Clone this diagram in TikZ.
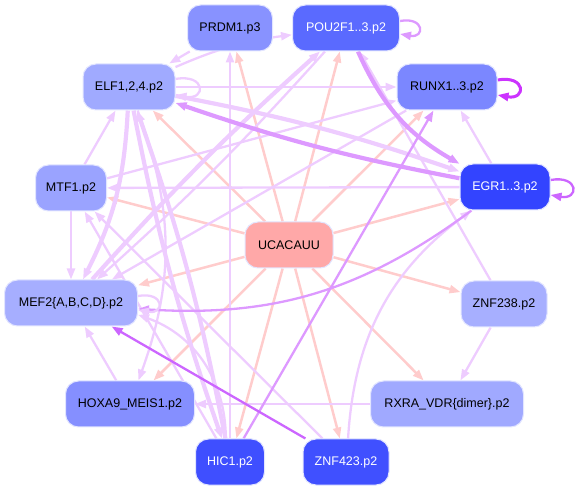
\documentclass[tikz,border=0pt]{standalone}
\usepackage{fontspec}
\setmainfont{Liberation Sans}
\usetikzlibrary{arrows.meta}
\pgfdeclarelayer{background}
\pgfsetlayers{background,main}
\definecolor{pinkc}{HTML}{FFCCCC}
\definecolor{lilac}{HTML}{EECCFF}
\definecolor{mauve}{HTML}{DD99FF}
\definecolor{violet}{HTML}{CC66FF}
\definecolor{orchid}{HTML}{CC33FF}
\definecolor{nodeline}{HTML}{E2E5FF}
\begin{document}
\begin{tikzpicture}[x=1pt, y=1pt, every node/.style={font=\fontsize{12.5}{14}\selectfont}]
  \tikzstyle{tf}=[draw=nodeline,line width=1pt,rounded corners=13pt,minimum height=46pt,inner xsep=0pt]
  \tikzstyle{reg}=[-{Triangle[length=11pt,width=8pt]},line width=2.3pt,color=lilac]
  \tikzstyle{heavy}=[reg,line width=4.2pt]
  \tikzstyle{mir}=[reg,line width=2.5pt,color=pinkc]
  \useasboundingbox (0,0) rectangle (580,492);
  \node[tf,fill={rgb,255:red,136;green,146;blue,255},minimum width=85pt] (prdm) at (230,464) {PRDM1.p3};
  \node[tf,fill={rgb,255:red,90;green,106;blue,255},text=white,minimum width=107pt] (pou) at (346,464) {POU2F1..3.p2};
  \node[tf,fill={rgb,255:red,160;green,170;blue,255},minimum width=92pt] (elf) at (129,405) {ELF1,2,4.p2};
  \node[tf,fill={rgb,255:red,123;green,135;blue,255},minimum width=100pt] (runx) at (447,405) {RUNX1..3.p2};
  \node[tf,fill={rgb,255:red,154;green,163;blue,255},minimum width=71pt] (mtf) at (71,304) {MTF1.p2};
  \node[tf,fill={rgb,255:red,51;green,68;blue,255},text=white,minimum width=90pt] (egr) at (505,305) {EGR1..3.p2};
  \node[tf,fill={rgb,255:red,255;green,168;blue,168},minimum width=88pt] (ucac) at (289,247) {UCACAUU};
  \node[tf,fill={rgb,255:red,166;green,174;blue,255},minimum width=133pt] (mef) at (71,189) {MEF2\{A,B,C,D\}.p2};
  \node[tf,fill={rgb,255:red,167;green,175;blue,255},minimum width=86pt] (znfb) at (504,188) {ZNF238.p2};
  \node[tf,fill={rgb,255:red,133;green,143;blue,255},minimum width=129pt] (hoxa) at (130,88) {HOXA9\_MEIS1.p2};
  \node[tf,fill={rgb,255:red,160;green,169;blue,255},minimum width=153pt] (rxra) at (447,88) {RXRA\_VDR\{dimer\}.p2};
  \node[tf,fill={rgb,255:red,63;green,79;blue,255},text=white,minimum width=69pt] (hic) at (230,30) {HIC1.p2};
  \node[tf,fill={rgb,255:red,64;green,80;blue,255},text=white,minimum width=86pt] (znfa) at (346,30) {ZNF423.p2};
  \begin{pgfonlayer}{background}
  % miRNA targets
  \foreach \t in {prdm,pou,elf,runx,mtf,egr,mef,znfb,hoxa,rxra,hic,znfa}
    \draw[mir] (ucac) -- (\t);
  % TF to TF
  \draw[reg] (prdm) -- (elf);
  \draw[reg] (elf) to[bend left=8] (pou);
  \draw[reg] (elf) -- (runx);
  \draw[reg] (mtf) -- (runx);
  \draw[reg] (mtf) -- (elf);
  \draw[reg] (mtf) -- (mef);
  \draw[reg] (egr) -- (mtf);
  \draw[reg] (egr) -- (runx);
  \draw[reg] (znfb) -- (pou);
  \draw[reg] (znfb) -- (rxra);
  \draw[reg] (rxra) -- (hoxa);
  \draw[reg] (hoxa) -- (mef);
  \draw[reg] (hic) -- (prdm);
  \draw[reg] (znfa) to[bend left=25] (egr);
  \draw[reg] (runx) -- (mef);
  \draw[reg] (pou) to[bend left=3] (mef);
  \draw[heavy] (mef) to[bend left=3] (pou);
  \draw[heavy] (elf) to[bend left=12] (mef);
  \draw[heavy] (hic) to[bend right=4] (elf);
  \draw[heavy] (elf) to[bend right=4] (hic);
  \draw[reg] (elf) to[bend left=20] (hoxa);
  \draw[reg] (hic) -- (mtf);
  \draw[reg] (znfa) -- (mtf);
  \draw[reg] (hic) to[bend right=35] (mef);
  \draw[heavy] (elf) to[bend left=4] (egr);
  \draw[heavy,color=mauve] (egr) to[bend left=4] (elf);
  \draw[heavy,color=mauve] (pou) to[bend right=18] (egr);
  \draw[reg,color=mauve] (egr) to[bend left=20] (mef);
  \draw[reg,color=mauve] (hic) -- (runx);
  \draw[reg,color=violet] (znfa) -- (mef);
  % self loops
  \draw[reg] ([yshift=8pt]elf.east) to[out=10,in=-10,looseness=5] ([yshift=-8pt]elf.east);
  \draw[reg] ([yshift=7pt]mef.east) to[out=10,in=-10,looseness=5] ([yshift=-7pt]mef.east);
  \draw[reg,color=mauve] ([yshift=7pt]pou.east) to[out=10,in=-10,looseness=5] ([yshift=-6pt]pou.east);
  \draw[reg,color=orchid,line width=3pt] ([yshift=7pt]runx.east) to[out=10,in=-10,looseness=5] ([yshift=-8pt]runx.east);
  \draw[reg,color=violet] ([yshift=7pt]egr.east) to[out=10,in=-10,looseness=5] ([yshift=-8pt]egr.east);
  \end{pgfonlayer}
\end{tikzpicture}
\end{document}
